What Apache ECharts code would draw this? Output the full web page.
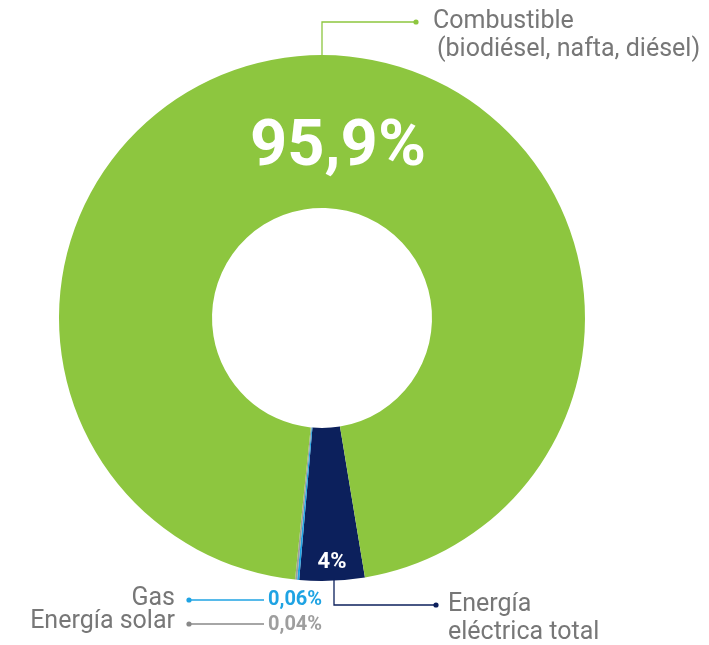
<!DOCTYPE html>
<html>
<head>
<meta charset="utf-8">
<script src="https://cdn.jsdelivr.net/npm/echarts@6/dist/echarts.min.js"></script>
<style>
html,body{margin:0;padding:0;background:#fff;}
#chart{width:709px;height:645px;}
</style>
</head>
<body>
<div id="chart"></div>
<script>
// Data (in drawing order, clockwise from the bottom-right)
const categories = ['Energía eléctrica total', 'Gas', 'Energía solar', 'Combustible'];
const values = [4, 0.06, 0.04, 95.9];
const valueLabels = ['4%', '0,06%', '0,04%', '95,9%'];
const colors = ['#0C205C', '#1FA3E3', '#9E9E9E', '#8DC63F'];

const FONT = 'Roboto, "Liberation Sans", sans-serif';
const GREY = '#777777';

const chart = echarts.init(document.getElementById('chart'), null, {renderer: 'canvas'});

function dot(x, y, c) {
  return {type: 'circle', shape: {cx: x, cy: y, r: 2.6}, style: {fill: c}, z: 10};
}
function line(points, c) {
  return {type: 'polyline', shape: {points: points}, style: {stroke: c, lineWidth: 1.3, fill: null}, z: 10};
}
function txt(x, y, text, opts) {
  return {type: 'text', z: 11, style: Object.assign({
    x: x, y: y, text: text, fontFamily: FONT, fontSize: 25, fill: GREY,
    textVerticalAlign: 'middle', textAlign: 'left'
  }, opts || {})};
}

const graphics = [
  // Combustible callout
  line([[322, 56], [322, 22], [416, 22]], colors[3]),
  dot(416, 22, colors[3]),
  txt(433, 22, 'Combustible'),
  txt(437, 50, '(biodiésel, nafta, diésel)'),
  // Energía eléctrica callout
  line([[334, 578], [334, 605], [436, 605]], colors[0]),
  dot(436, 605, colors[0]),
  txt(448, 605, 'Energía'),
  txt(448, 633, 'eléctrica total'),
  // Gas
  dot(189, 600, colors[1]),
  line([[189, 600], [264, 600]], colors[1]),
  txt(175, 599, categories[1], {textAlign: 'right'}),
  txt(268, 600, valueLabels[1], {fontWeight: 'bold', fontSize: 20, fill: colors[1]}),
  // Energía solar
  dot(189, 624, '#888888'),
  line([[189, 624], [264, 624]], '#888888'),
  txt(175, 622, categories[2], {textAlign: 'right'}),
  txt(268, 625, valueLabels[2], {fontWeight: 'bold', fontSize: 20, fill: colors[2]}),
  // In-slice values
  txt(338, 149, valueLabels[3], {fontWeight: 'bold', fontSize: 65, fill: '#ffffff', textAlign: 'center'}),
  txt(332, 562, valueLabels[0], {fontWeight: 'bold', fontSize: 22, fill: '#ffffff', textAlign: 'center'})
];

chart.setOption({
  animation: false,
  backgroundColor: '#ffffff',
  series: [{
    type: 'pie',
    center: [322, 318],
    radius: [110, 263],
    startAngle: 279.4,
    clockwise: true,
    minAngle: 0.45,
    avoidLabelOverlap: false,
    label: {show: false},
    labelLine: {show: false},
    emphasis: {disabled: true},
    itemStyle: {borderWidth: 0},
    data: categories.map((c, i) => ({name: c, value: values[i], itemStyle: {color: colors[i]}}))
  }],
  graphic: graphics
});
</script>
</body>
</html>
